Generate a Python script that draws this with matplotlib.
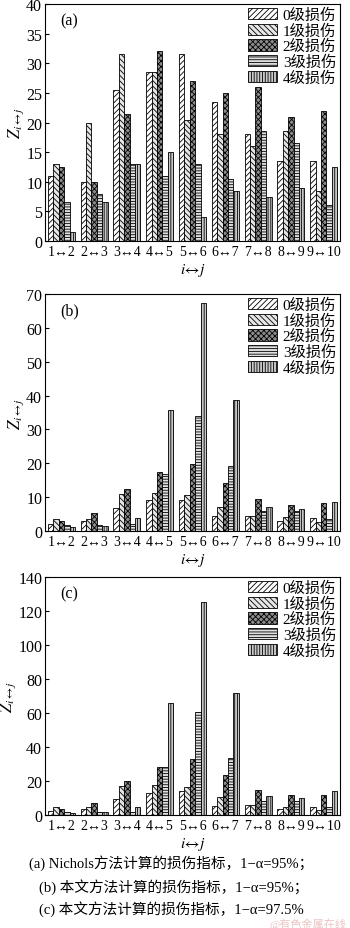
import numpy as np
import matplotlib
matplotlib.use('Agg')
from matplotlib import pyplot as plt

plt.rcParams['font.family'] = ['Liberation Serif', 'Noto Sans CJK SC', 'DejaVu Sans']
plt.rcParams['mathtext.fontset'] = 'stix'
plt.rcParams['hatch.linewidth'] = 0.6

pairs = ['1↔2', '2↔3', '3↔4', '4↔5', '5↔6', '6↔7', '7↔8', '8↔9', '9↔10']
levels = ['0级损伤', '1级损伤', '2级损伤', '3级损伤', '4级损伤']

# (a) Nichols, 1-alpha = 95%
z_a = [
    [11.0, 10.0, 25.5, 28.5, 31.5, 23.5, 18.0, 13.5, 13.5],
    [13.0, 20.0, 31.5, 28.5, 20.5, 18.0, 16.0, 18.5, 8.5],
    [12.5, 10.0, 21.5, 32.0, 27.0, 25.0, 26.0, 21.0, 22.0],
    [6.5, 8.0, 13.0, 11.0, 13.0, 10.5, 18.5, 16.5, 6.0],
    [1.5, 6.5, 13.0, 15.0, 4.0, 8.5, 7.5, 9.0, 12.5],
]
# (b) proposed method, 1-alpha = 95%
z_b = [
    [2.2, 2.9, 6.9, 9.1, 9.3, 4.5, 4.3, 3.1, 3.8],
    [3.7, 3.5, 11.0, 11.3, 10.5, 7.2, 4.5, 4.2, 2.6],
    [3.0, 5.3, 12.5, 17.3, 19.8, 14.2, 9.6, 7.7, 8.4],
    [1.8, 1.8, 2.2, 16.7, 34.0, 19.2, 6.0, 6.0, 3.7],
    [1.3, 1.4, 3.8, 35.8, 67.5, 38.8, 7.2, 6.6, 8.7],
]
# (c) proposed method, 1-alpha = 97.5%
z_c = [
    [2.5, 3.5, 9.5, 13.0, 14.0, 5.5, 6.0, 3.5, 5.0],
    [4.5, 4.5, 17.0, 17.5, 16.5, 10.5, 6.0, 5.0, 3.0],
    [3.5, 7.0, 20.0, 28.0, 33.0, 23.5, 15.0, 11.5, 12.0],
    [2.0, 2.0, 2.0, 28.5, 60.5, 33.5, 8.5, 8.0, 4.5],
    [1.0, 1.5, 5.0, 66.0, 125.5, 72.0, 11.0, 10.0, 14.0],
]

hatches = ['//////', '\\\\\\\\\\\\', 'xxxxxx', '------', '||||||']
fills = ['white', '#e6e6e6', '#8c8c8c', '#e0e0e0', '#c8c8c8']

fig = plt.figure(figsize=(3.5, 9.29), dpi=100)
panels = [
    (z_a, '(a)', 40, 5, [0.1286, 0.7395, 0.843, 0.2551]),
    (z_b, '(b)', 70, 10, [0.1286, 0.4273, 0.843, 0.2551]),
    (z_c, '(c)', 140, 20, [0.1286, 0.1216, 0.843, 0.2562]),
]

x = np.arange(1, len(pairs) + 1)
w = 0.165
for data, tag, ymax, step, rect in panels:
    ax = fig.add_axes(rect)
    for k in range(5):
        ax.bar(x + (k - 2) * w, data[k], width=w, color=fills[k],
               edgecolor='black', linewidth=0.6, hatch=hatches[k],
               label=levels[k])
    ax.set_xlim(0.5, 9.5)
    ax.set_ylim(0, ymax)
    ax.set_yticks(np.arange(0, ymax + step / 2, step))
    ax.set_xticks(x)
    ax.set_xticklabels(pairs, fontsize=10)
    ax.tick_params(axis='x', length=0, pad=3)
    ax.tick_params(axis='y', direction='in', length=3, labelsize=11.5, pad=2)
    ax.set_xlabel(r'$i\!\leftrightarrow\!j$', fontsize=11, labelpad=2)
    ax.set_ylabel(r'$Z_{i\leftrightarrow j}$', fontsize=12, labelpad=0)
    ax.text(0.05, 0.93, tag, transform=ax.transAxes, fontsize=11.5,
            va='center', ha='left')
    ax.legend(loc='upper right', frameon=False, fontsize=11,
              handlelength=1.9, handleheight=0.75, labelspacing=0.08,
              handletextpad=0.4, borderaxespad=0.15, borderpad=0.1)
    for s in ax.spines.values():
        s.set_linewidth(0.8)

captions = [
    ('(a) Nichols方法计算的损伤指标，1−α=95%；', 0.082, 0.0705),
    ('(b) 本文方法计算的损伤指标，1−α=95%；', 0.112, 0.0455),
    ('(c) 本文方法计算的损伤指标，1−α=97.5%', 0.112, 0.0210),
]
for txt, cx, cy in captions:
    fig.text(cx, cy, txt, fontsize=10.5, ha='left', va='center')

fig.text(0.99, 0.005, '@有色金属在线', fontsize=8, color='#e8b4b4',
         ha='right', va='center', alpha=0.8)

fig.savefig('out.png', dpi=100)
